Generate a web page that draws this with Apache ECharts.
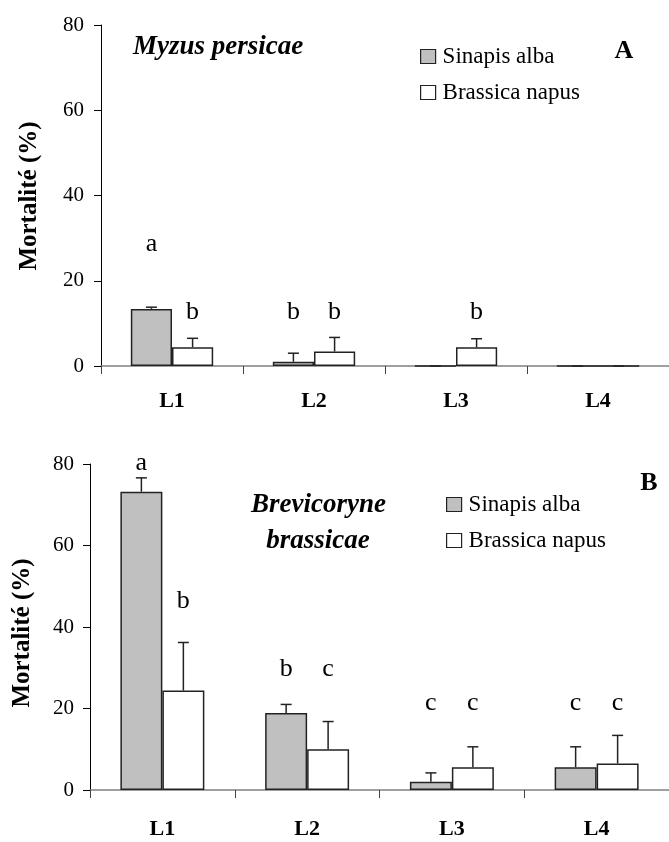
<!DOCTYPE html>
<html>
<head>
<meta charset="utf-8">
<script src="https://cdn.jsdelivr.net/npm/echarts@6/dist/echarts.min.js"></script>
<style>
html,body{margin:0;padding:0;background:#fff;}
#chart{width:669px;height:842px;}
</style>
</head>
<body>
<div id="chart"></div>
<script>
// ---------- data ----------
const categories = ['L1', 'L2', 'L3', 'L4'];
const seriesNames = ['Sinapis alba', 'Brassica napus'];

// Panel A : Myzus persicae
const mpSinapis = [13.4, 1.0, 0, 0];
const mpSinapisErr = [0.4, 2.0, 0, 0];
const mpBrassica = [4.4, 3.4, 4.4, 0];
const mpBrassicaErr = [2.1, 3.3, 2.0, 0];
const mpSinapisLetters = ['a', 'b', '', ''];
const mpSinapisLetterY = [28.6, 12.6, null, null];
const mpBrassicaLetters = ['b', 'b', 'b', ''];
const mpBrassicaLetterY = [12.6, 12.6, 12.6, null];

// Panel B : Brevicoryne brassicae
const bbSinapis = [73.2, 18.9, 2.0, 5.6];
const bbSinapisErr = [3.4, 2.1, 2.2, 5.0];
const bbBrassica = [24.4, 10.0, 5.6, 6.5];
const bbBrassicaErr = [11.8, 6.8, 5.0, 6.9];
const bbSinapisLetters = ['a', 'b', 'c', 'c'];
const bbSinapisLetterY = [80.3, 29.6, 21.4, 21.4];
const bbBrassicaLetters = ['b', 'c', 'c', 'c'];
const bbBrassicaLetterY = [46.3, 29.6, 21.4, 21.4];

const yMin = 0, yMax = 80, yStep = 20;

// ---------- styling ----------
const FONT = '"Liberation Serif", "Times New Roman", serif';
const BAR_FRAC = 0.29;
const GRAY = '#c0c0c0';
const EDGE = '#222';

const chart = echarts.init(document.getElementById('chart'), null, {renderer: 'canvas'});

function barSeries(name, data, color, gi) {
  return {
    name: name, type: 'bar', xAxisIndex: gi, yAxisIndex: gi,
    data: data, barWidth: (BAR_FRAC * 100) + '%', barGap: '0%',
    itemStyle: {color: color, borderColor: EDGE, borderWidth: 1.5},
    emphasis: {disabled: true}, z: 2
  };
}

function errSeries(values, errs, side, gi) {
  return {
    type: 'custom', xAxisIndex: gi, yAxisIndex: gi, z: 5, silent: true,
    data: values.map((v, i) => [i, v, errs[i]]),
    renderItem: function (params, api) {
      const c = api.value(0), v = api.value(1), e = api.value(2);
      const band = api.size([1, 0])[0];
      const off = side * band * BAR_FRAC / 2;
      const p0 = api.coord([c, v]);
      const p1 = api.coord([c, v + e]);
      const x = p0[0] + off;
      const st = {stroke: EDGE, lineWidth: 1.5};
      return {
        type: 'group',
        children: [
          {type: 'line', shape: {x1: x, y1: p0[1], x2: x, y2: p1[1]}, style: st},
          {type: 'line', shape: {x1: x - 5.5, y1: p1[1], x2: x + 5.5, y2: p1[1]}, style: st}
        ]
      };
    }
  };
}

function letterSeries(letters, ys, side, gi) {
  const data = [];
  ys.forEach((y, i) => { if (y !== null && letters[i]) data.push([i, y]); });
  return {
    type: 'custom', xAxisIndex: gi, yAxisIndex: gi, z: 6, silent: true,
    data: data,
    renderItem: function (params, api) {
      const c = api.value(0), y = api.value(1);
      const band = api.size([1, 0])[0];
      const off = side * band * BAR_FRAC / 2;
      const p = api.coord([c, y]);
      return {
        type: 'text', x: p[0] + off, y: p[1],
        style: {text: letters[c], fill: '#000', font: '26px ' + FONT, align: 'center', verticalAlign: 'middle'}
      };
    }
  };
}

function xAxis(gi, margin) {
  return {
    type: 'category', gridIndex: gi, data: categories,
    axisLine: {lineStyle: {color: '#808080', width: 1.5}},
    axisTick: {show: true, length: 8, lineStyle: {color: '#444', width: 1}},
    axisLabel: {color: '#000', fontFamily: FONT, fontWeight: 'bold', fontSize: 22, margin: margin}
  };
}

function yAxis(gi, margin) {
  return {
    type: 'value', gridIndex: gi, min: yMin, max: yMax, interval: yStep,
    axisLine: {show: true, lineStyle: {color: '#000', width: 1}},
    axisTick: {show: true, length: 7, lineStyle: {color: '#000', width: 1}},
    axisLabel: {color: '#000', fontFamily: FONT, fontSize: 21, margin: margin},
    splitLine: {show: false}
  };
}

function legend(left, top) {
  return {
    data: seriesNames, orient: 'vertical', left: left, top: top,
    itemWidth: 15, itemHeight: 14, itemGap: 13, icon: 'rect', selectedMode: false,
    itemStyle: {borderColor: EDGE, borderWidth: 1.2},
    textStyle: {fontFamily: FONT, fontSize: 23, color: '#000', lineHeight: 23, padding: [0, 0, 0, 2]}
  };
}

const option = {
  backgroundColor: '#fff',
  animation: false,
  grid: [
    {left: 101, top: 25, width: 581, height: 341},
    {left: 90, top: 464, width: 592, height: 326}
  ],
  xAxis: [xAxis(0, 24), xAxis(1, 28)],
  yAxis: [yAxis(0, 17), yAxis(1, 16)],
  legend: [legend(415, 40), legend(441, 488)],
  graphic: {elements: [
    {type: 'text', x: 133, y: 47.5, z: 10, style: {text: 'Myzus persicae', font: 'italic bold 27px ' + FONT, fill: '#000', verticalAlign: 'middle'}},
    {type: 'text', x: 624, y: 51, z: 10, style: {text: 'A', font: 'bold 26px ' + FONT, fill: '#000', align: 'center', verticalAlign: 'middle'}},
    {type: 'text', x: 649, y: 483, z: 10, style: {text: 'B', font: 'bold 26px ' + FONT, fill: '#000', align: 'center', verticalAlign: 'middle'}},
    {type: 'text', x: 318.5, y: 505.5, z: 10, style: {text: 'Brevicoryne', font: 'italic bold 27px ' + FONT, fill: '#000', align: 'center', verticalAlign: 'middle'}},
    {type: 'text', x: 318, y: 541, z: 10, style: {text: 'brassicae', font: 'italic bold 27px ' + FONT, fill: '#000', align: 'center', verticalAlign: 'middle'}},
    {type: 'rect', z: 20, shape: {x: 250, y: 548, width: 140, height: 10}, style: {fill: '#fff'}},
    {type: 'text', x: 30, y: 196, rotation: Math.PI / 2, z: 10, style: {text: 'Mortalité (%)', font: 'bold 25px ' + FONT, fill: '#000', align: 'center', verticalAlign: 'middle'}},
    {type: 'text', x: 23, y: 633, rotation: Math.PI / 2, z: 10, style: {text: 'Mortalité (%)', font: 'bold 25px ' + FONT, fill: '#000', align: 'center', verticalAlign: 'middle'}}
  ]},
  series: [
    barSeries(seriesNames[0], mpSinapis, GRAY, 0),
    barSeries(seriesNames[1], mpBrassica, '#fff', 0),
    errSeries(mpSinapis, mpSinapisErr, -1, 0),
    errSeries(mpBrassica, mpBrassicaErr, 1, 0),
    letterSeries(mpSinapisLetters, mpSinapisLetterY, -1, 0),
    letterSeries(mpBrassicaLetters, mpBrassicaLetterY, 1, 0),
    barSeries(seriesNames[0], bbSinapis, GRAY, 1),
    barSeries(seriesNames[1], bbBrassica, '#fff', 1),
    errSeries(bbSinapis, bbSinapisErr, -1, 1),
    errSeries(bbBrassica, bbBrassicaErr, 1, 1),
    letterSeries(bbSinapisLetters, bbSinapisLetterY, -1, 1),
    letterSeries(bbBrassicaLetters, bbBrassicaLetterY, 1, 1)
  ]
};
chart.setOption(option);
</script>
</body>
</html>
